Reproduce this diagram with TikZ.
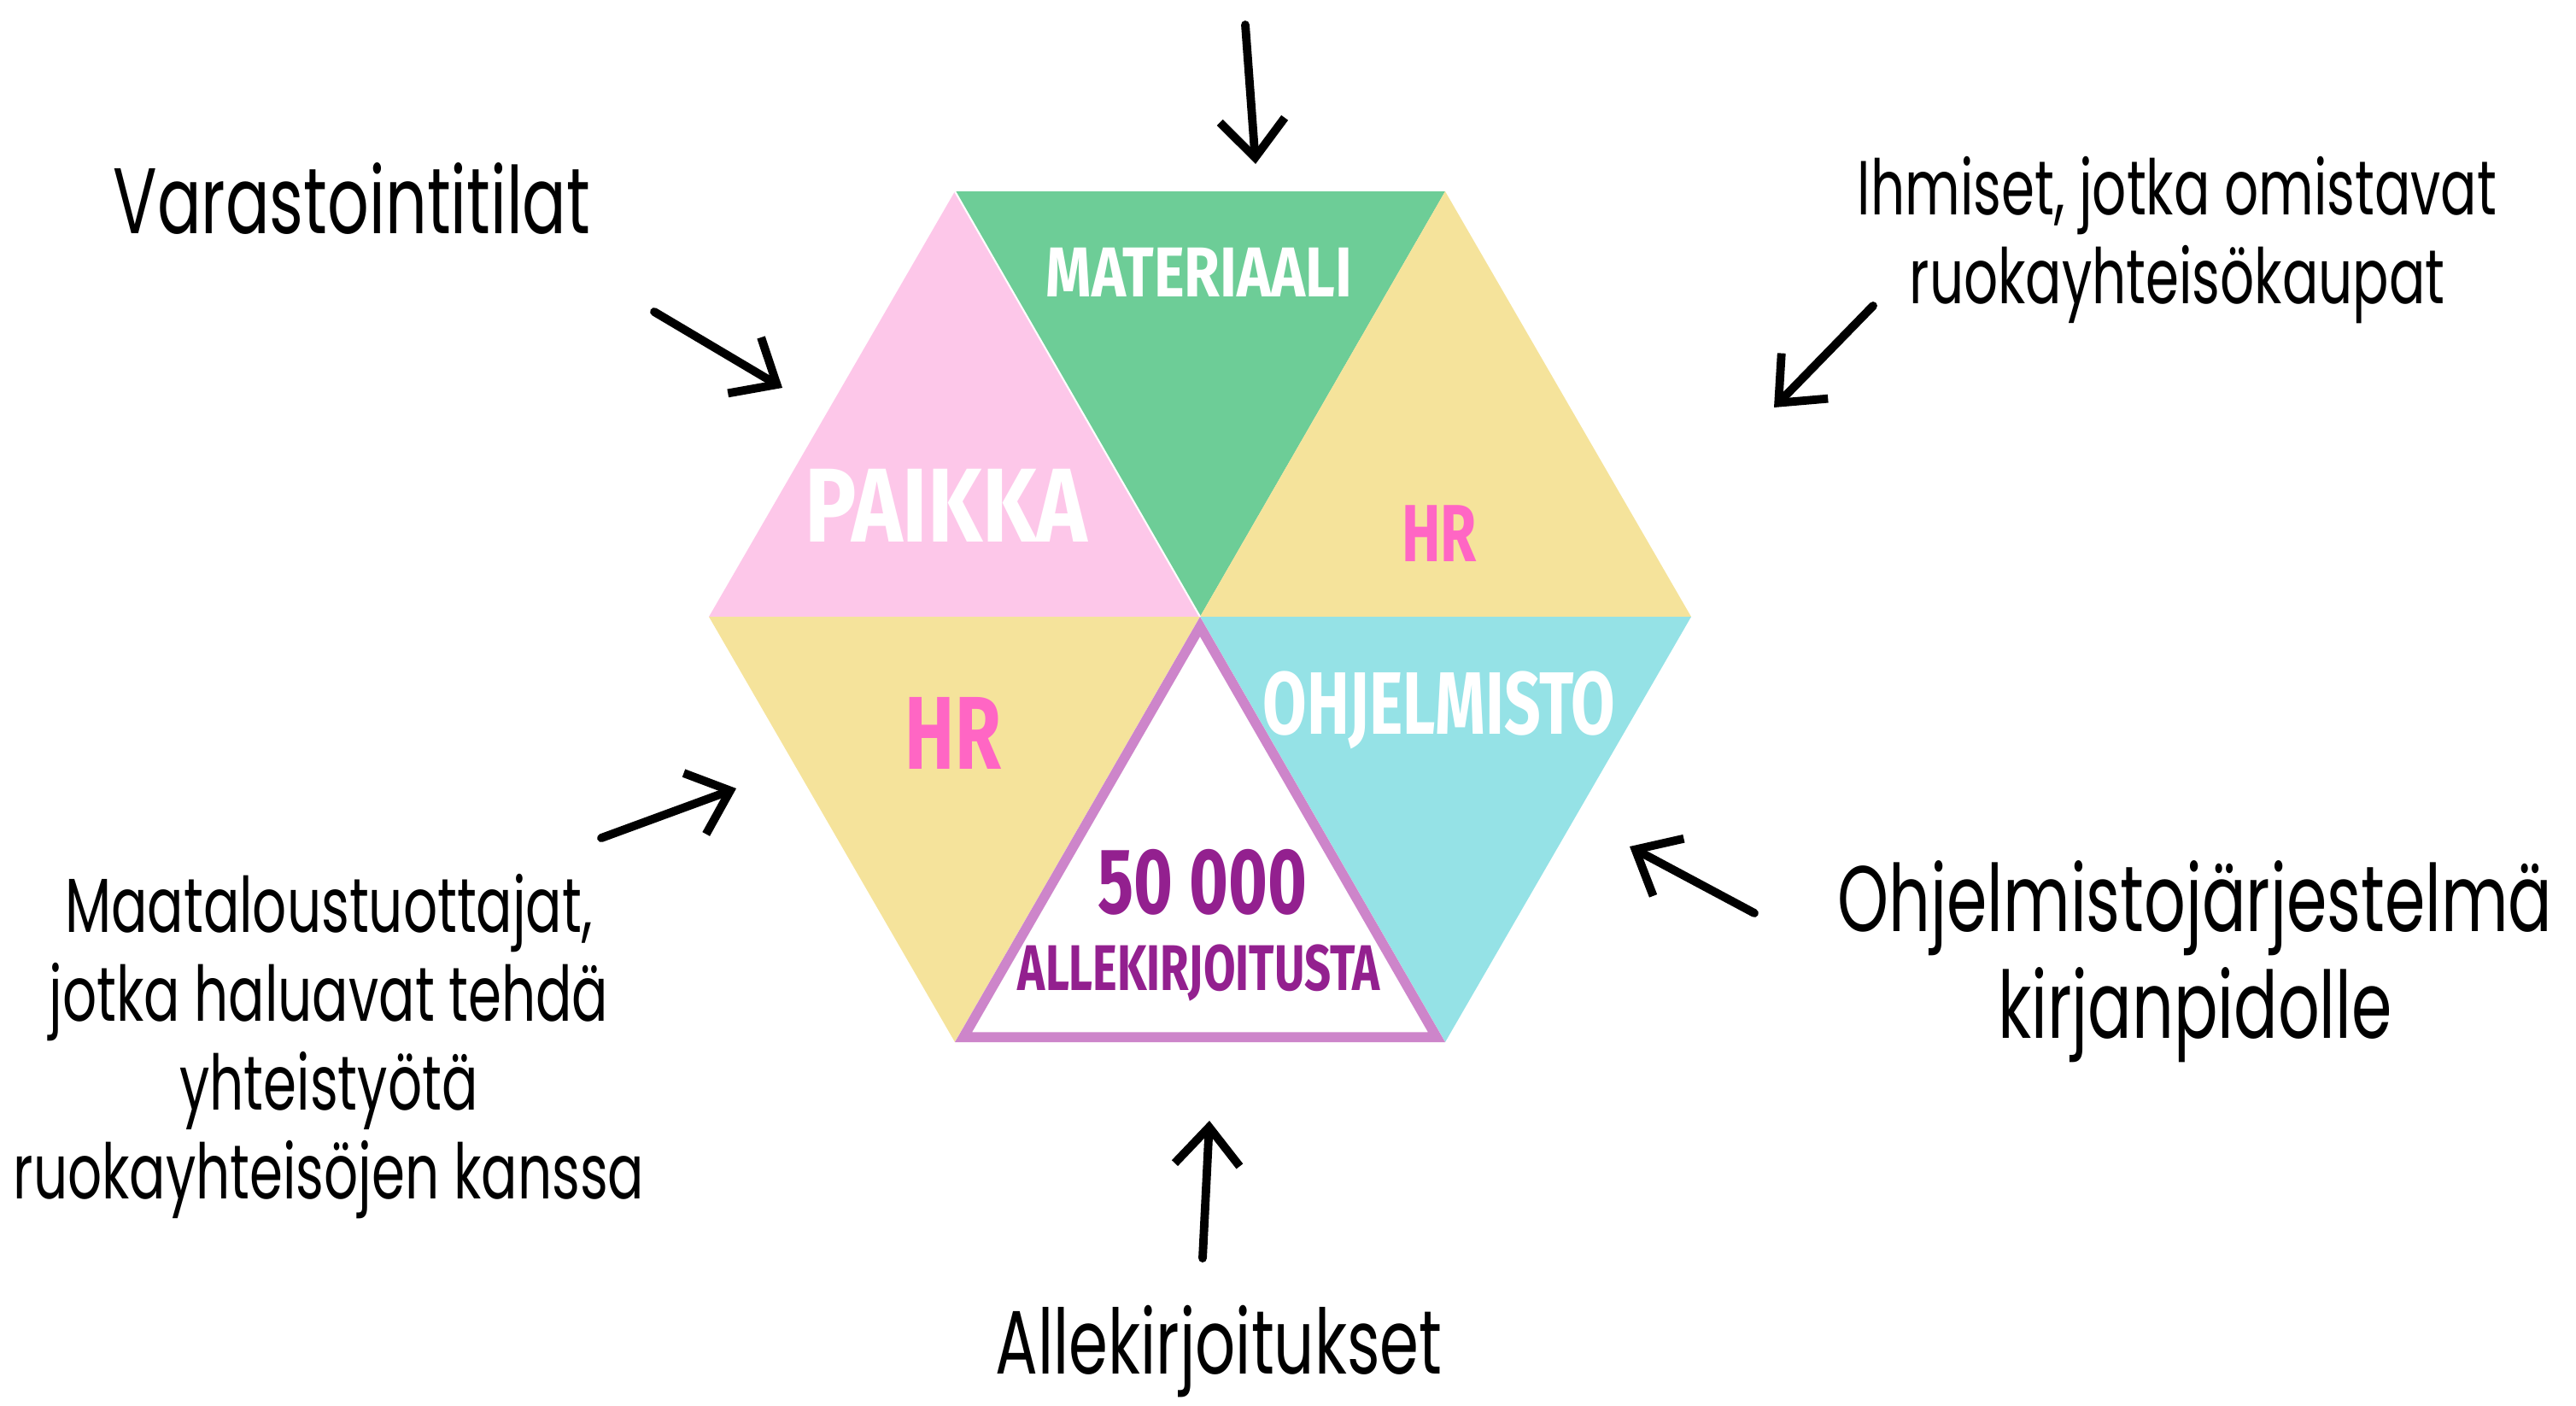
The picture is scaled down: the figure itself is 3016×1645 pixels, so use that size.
\documentclass[tikz,border=0pt]{standalone}
\usepackage{fontspec}
\usetikzlibrary{arrows.meta}
\newfontfamily\notefont[FakeStretch = 0.7]{Poppins}
\newfontfamily\tagfont[FakeStretch = 0.72]{Fira Sans}
\newfontfamily\widetagfont[FakeStretch = 0.82]{Fira Sans}
\definecolor{leafgreen}{HTML}{6DCD97}
\definecolor{candypink}{HTML}{FDC7E9}
\definecolor{sandyellow}{HTML}{F5E39B}
\definecolor{skycyan}{HTML}{95E2E6}
\definecolor{hotpink}{HTML}{FF66C4}
\definecolor{signpurple}{HTML}{93208F}
\definecolor{lilac}{HTML}{CD85CA}
\tikzset{
    note/.style = {align = center, font = \notefont\fontsize{25.5}{29.6}\selectfont},
    bignote/.style = {align = center, font = \notefont\fontsize{31}{35.6}\selectfont},
    tag/.style = {inner sep = 0pt, font = \tagfont\bfseries},
    pointer/.style = {-{Straight Barb[length = 4.4mm, width = 7.6mm]}, line width = 2.8pt, line cap = round, line join = round}
}
\begin{document}
\begin{tikzpicture}[x = 0.01cm, y = -0.01cm]
        \useasboundingbox (0, 0) rectangle (3016, 1645);

        \coordinate (c) at (1405, 722);
        \coordinate (tl) at (1118, 224);
        \coordinate (tr) at (1692, 224);
        \coordinate (r) at (1980, 722);
        \coordinate (br) at (1692, 1220);
        \coordinate (bl) at (1118, 1220);
        \coordinate (l) at (830, 722);

        \fill[leafgreen] (tl) -- (tr) -- (c) -- cycle;
        \fill[candypink] (tl) -- (c) -- (l) -- cycle;
        \fill[sandyellow] (tr) -- (r) -- (c) -- cycle;
        \fill[sandyellow] (l) -- (c) -- (bl) -- cycle;
        \fill[skycyan] (c) -- (r) -- (br) -- cycle;
        \draw[white, line width = 0.6pt] (tl) -- (c);
        \fill[white] (c) -- (br) -- (bl) -- cycle;
        \begin{scope}
            \clip (c) -- (br) -- (bl) -- cycle;
            \draw[lilac, line width = 6.6pt, line join = miter] (c) -- (br) -- (bl) -- cycle;
        \end{scope}

        \node[tag, white, font = \widetagfont\bfseries\fontsize{23.5}{23.5}\selectfont] (1) at (1404, 319) {MATERIAALI};
        \node[tag, white, font = \widetagfont\bfseries\fontsize{35}{35}\selectfont] (2) at (1108, 592) {PAIKKA};
        \node[tag, hotpink, font = \tagfont\bfseries\fontsize{27}{27}\selectfont] (3) at (1685, 625) {HR};
        \node[tag, hotpink, font = \tagfont\bfseries\fontsize{34.5}{34.5}\selectfont] (4) at (1116, 858) {HR};
        \node[tag, white, font = \tagfont\bfseries\fontsize{29.5}{29.5}\selectfont] (5) at (1685, 831) {OHJELMISTO};
        \node[tag, signpurple, font = \tagfont\bfseries\fontsize{31}{31}\selectfont] (6) at (1408, 1033) {50 000};
        \node[tag, signpurple, font = \tagfont\bfseries\fontsize{21.5}{21.5}\selectfont] (7) at (1404, 1139) {ALLEKIRJOITUSTA};

        \node[bignote] (8) at (412, 233) {Varastointitilat};
        \node[note] (9) at (2549, 281) {Ihmiset, jotka omistavat \\ ruokayhteisökaupat};
        \node[bignote] (10) at (2570, 1126) {Ohjelmistojärjestelmä \\ kirjanpidolle};
        \node[bignote, font = \notefont\fontsize{30}{34}\selectfont] (11) at (1427, 1582) {Allekirjoitukset};
        \node[note] (12) at (385, 1225) {Maataloustuottajat, \\ jotka haluavat tehdä \\ yhteistyötä \\ ruokayhteisöjen kanssa};

        \coordinate (a1) at (1458, 29);
        \coordinate (b1) at (1470, 192);
        \coordinate (a2) at (766, 365);
        \coordinate (b2) at (916, 454);
        \coordinate (a3) at (2193, 358);
        \coordinate (b3) at (2077, 477);
        \coordinate (a4) at (704, 981);
        \coordinate (b4) at (862, 923);
        \coordinate (a5) at (2054, 1069);
        \coordinate (b5) at (1908, 991);
        \coordinate (a6) at (1408, 1473);
        \coordinate (b6) at (1416, 1312);

        \foreach \i in {1, ..., 6}
            \draw[pointer] (a\i) -- (b\i);
    \end{tikzpicture}
\end{document}
